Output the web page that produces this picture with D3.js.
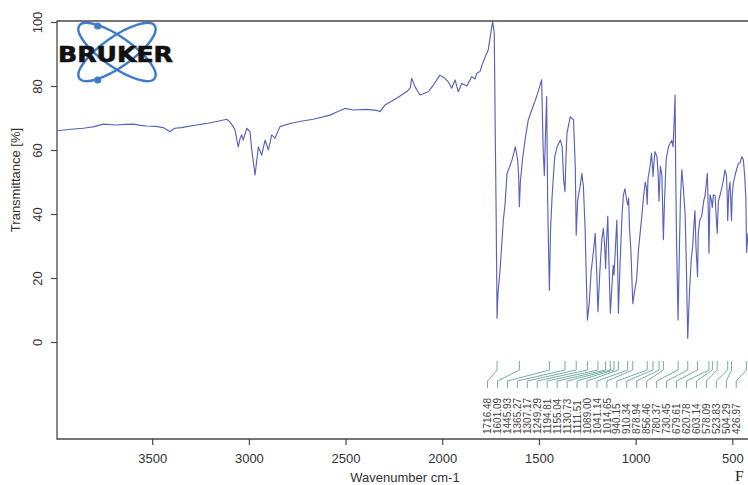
<!DOCTYPE html>
<html>
<head>
<meta charset="utf-8">
<script src="https://cdn.jsdelivr.net/npm/d3@7"></script>
<style>
  html, body { margin: 0; padding: 0; background: #ffffff; }
  svg { display: block; }
</style>
</head>
<body>
<svg id="chart" width="748" height="485"></svg>
<script>
// IR spectrum: wavenumber (cm-1) and transmittance (%)
const wavenumber = [
  3992, 3920, 3856, 3800, 3753, 3684, 3640, 3598, 3560, 3528, 3480, 3443, 3420, 3408, 3395, 3382,
  3350, 3321, 3270, 3218, 3160, 3115, 3098, 3081, 3072, 3055, 3046, 3037, 3029, 3011, 2994, 2985,
  2968, 2951, 2934, 2916, 2899, 2882, 2865, 2839, 2787, 2730, 2667, 2580, 2540, 2503, 2460, 2391,
  2340, 2322, 2296, 2236, 2184, 2165, 2158, 2141, 2115, 2072, 2046, 2012, 1986, 1969, 1951, 1934,
  1917, 1899, 1873, 1848, 1830, 1822, 1805, 1788, 1762, 1744, 1739, 1731, 1726, 1722, 1719, 1716.48,
  1712, 1701, 1684, 1675, 1665, 1650, 1639, 1622, 1610, 1605, 1601.09, 1596, 1585, 1572, 1555, 1537,
  1512, 1486, 1478, 1472, 1466, 1460, 1455, 1450, 1445.93, 1440, 1432, 1425, 1418, 1406, 1389, 1380,
  1372, 1365.27, 1360, 1355, 1338, 1321, 1312, 1307.17, 1300, 1295, 1286, 1278, 1270, 1261, 1255, 1249.29,
  1240, 1230, 1215, 1209, 1200, 1194.81, 1185, 1175, 1167, 1160, 1155.04, 1150, 1144, 1138, 1130.73, 1122,
  1116, 1111.51, 1104, 1097, 1093, 1089, 1080, 1070, 1063, 1055, 1048, 1041.14, 1036, 1032, 1024, 1014.65,
  1005, 995, 985, 970, 958, 950, 944, 940.15, 936, 925, 918, 913, 910.34, 905, 900, 890,
  884, 878.94, 872, 864, 856.46, 850, 842, 830, 822, 813, 806, 800, 796, 793, 788, 780.37,
  775, 768, 761, 753, 744, 738, 730.45, 722, 712, 705, 698, 693, 688, 679.61, 676, 668,
  658, 648, 641, 629, 624, 620.78, 615, 607, 603.14, 598, 589, 584, 578.09, 572, 564, 555,
  546, 538, 530, 526, 523.83, 518, 512, 508, 504.29, 500, 495, 482, 469, 460, 451, 443,
  436, 430, 426, 419
];
const transmittance = [
  66.0, 66.5, 66.8, 67.3, 68.1, 67.8, 68.0, 68.1, 67.7, 67.5, 67.4, 67.0, 66.2, 65.7, 66.4, 66.8,
  67.0, 67.3, 67.8, 68.3, 69.0, 69.6, 68.8, 67.3, 66.3, 61.0, 63.5, 64.7, 63.1, 66.8, 65.7, 60.0,
  52.2, 61.0, 58.4, 63.1, 60.0, 64.7, 63.7, 67.3, 68.3, 69.0, 69.6, 70.9, 72.0, 73.0, 72.5, 72.7,
  72.4, 72.0, 74.1, 76.2, 78.2, 79.5, 82.4, 79.8, 77.2, 78.2, 80.3, 83.4, 82.4, 81.3, 79.3, 81.9,
  78.2, 80.8, 80.0, 82.9, 82.2, 84.0, 84.5, 87.6, 91.3, 98.5, 100.1, 96.5, 66.3, 44.4, 25.0, 7.4,
  15.0, 22.5, 38.1, 43.3, 52.7, 55.0, 56.9, 61.0, 57.0, 52.0, 42.3, 50.0, 57.0, 63.1, 69.4, 72.5,
  76.7, 81.9, 60.0, 52.0, 65.0, 76.7, 45.0, 28.0, 16.2, 35.0, 45.4, 52.0, 58.0, 61.0, 63.1, 61.0,
  50.6, 47.0, 58.0, 65.2, 70.4, 69.4, 54.8, 33.4, 44.0, 46.0, 49.0, 52.7, 48.5, 35.0, 20.0, 6.9,
  12.0, 22.0, 30.0, 34.0, 20.0, 9.5, 22.0, 32.0, 35.5, 30.0, 23.0, 32.0, 39.3, 25.0, 9.0, 18.0,
  24.0, 21.0, 30.0, 38.1, 25.0, 9.0, 25.0, 40.0, 46.0, 47.9, 45.0, 42.8, 45.0, 36.0, 28.0, 12.0,
  16.0, 19.4, 29.0, 38.0, 46.0, 50.0, 48.0, 43.0, 51.0, 55.0, 59.0, 55.0, 51.7, 56.0, 59.5, 58.0,
  53.0, 44.0, 55.0, 52.0, 32.0, 45.0, 57.0, 61.0, 62.0, 63.0, 61.0, 70.0, 77.2, 55.0, 30.0, 6.9,
  25.0, 45.0, 53.8, 48.0, 40.0, 25.0, 1.1, 15.0, 26.0, 29.8, 37.0, 41.0, 30.0, 20.4, 34.0, 38.0,
  39.5, 44.0, 45.7, 52.7, 40.0, 27.7, 46.0, 44.0, 42.0, 46.0, 45.7, 40.0, 34.0, 44.0, 45.7, 48.0,
  50.6, 53.8, 52.0, 45.0, 38.0, 47.0, 50.0, 44.0, 38.0, 46.0, 49.6, 53.0, 55.8, 56.0, 57.9, 57.0,
  52.0, 45.0, 28.0, 34.0
];
// picked peak positions, printed under the spectrum
const peakLabels = [
  "1716.48", "1601.09", "1445.93", "1365.27", "1307.17", "1249.29", "1194.81", "1155.04",
  "1130.73", "1111.51", "1089.00", "1041.14", "1014.65", "940.15", "910.34", "878.94",
  "856.46", "780.37", "730.45", "679.61", "620.78", "603.14", "578.09", "523.83", "504.29", "426.97"
];
const xTicks = [3500, 3000, 2500, 2000, 1500, 1000, 500];
const yTicks = [0, 20, 40, 60, 80, 100];

const plot = { left: 57, top: 21, bottom: 439, right: 760 };
const svg = d3.select("#chart");

const x = d3.scaleLinear().domain([4000, 500]).range([55.5, 732.3]);
const y = d3.scaleLinear().domain([0, 100]).range([342, 22]);

const axisColor = "#4a4a4a";
const fontFamily = "'Liberation Sans', Arial, Helvetica, sans-serif";

// Bruker logo (top-left, inside the frame)
const logo = svg.append("g").attr("transform", "translate(117,52)");
[35, -35].forEach(a => {
  logo.append("ellipse")
    .attr("rx", 46).attr("ry", 15)
    .attr("transform", `rotate(${a})`)
    .attr("fill", "none").attr("stroke", "#3f7dc8").attr("stroke-width", 2.4);
});
logo.append("circle").attr("cx", -19.3).attr("cy", -26).attr("r", 3.6).attr("fill", "#3f7dc8");
logo.append("circle").attr("cx", -19.3).attr("cy", 28).attr("r", 3.6).attr("fill", "#3f7dc8");
logo.append("text")
  .attr("x", -59).attr("y", 10)
  .attr("textLength", 115).attr("lengthAdjust", "spacingAndGlyphs")
  .attr("font-family", "'DejaVu Sans', 'Liberation Sans', sans-serif")
  .attr("font-weight", "bold").attr("font-size", 21)
  .attr("fill", "#111").attr("stroke", "#111").attr("stroke-width", 0.6)
  .text("BRUKER");

// spectrum, clipped to the plot frame
svg.append("clipPath").attr("id", "plotClip")
  .append("rect").attr("x", plot.left).attr("y", plot.top - 1)
  .attr("width", plot.right - plot.left).attr("height", plot.bottom - plot.top + 1);

const line = d3.line().x(d => x(d[0])).y(d => y(d[1]));
svg.append("path")
  .datum(d3.zip(wavenumber, transmittance))
  .attr("clip-path", "url(#plotClip)")
  .attr("d", line)
  .attr("fill", "none")
  .attr("stroke", "#5a63b8")
  .attr("stroke-width", 1.15)
  .attr("stroke-linejoin", "round");

// peak annotation leaders and labels
const labelX0 = 487.5, labelStep = 9.95;
const leaders = svg.append("g");
peakLabels.forEach((lab, i) => {
  const px = x(+lab);
  const lx = labelX0 + i * labelStep;
  leaders.append("path")
    .attr("d", `M${px},361 V370 L${lx},381 V388`)
    .attr("fill", "none").attr("stroke", "#78ad9f").attr("stroke-width", 1);
  leaders.append("text")
    .attr("transform", `translate(${lx + 3.6},434) rotate(-90)`)
    .attr("font-family", fontFamily).attr("font-size", 10)
    .attr("fill", "#444")
    .text(lab);
});

// frame
svg.append("path")
  .attr("d", `M${plot.right},${plot.top} H${plot.left} V${plot.bottom} H${plot.right}`)
  .attr("fill", "none").attr("stroke", axisColor).attr("stroke-width", 1.3);

// y axis
const yAxis = svg.append("g")
  .attr("transform", `translate(${plot.left},0)`)
  .call(d3.axisLeft(y).tickValues(yTicks).tickSize(6).tickFormat(d3.format("d")));
yAxis.select(".domain").remove();
yAxis.selectAll(".tick line").attr("stroke", axisColor).attr("stroke-width", 1.2);
yAxis.selectAll(".tick text")
  .attr("x", null).attr("dy", null)
  .attr("transform", "translate(-15.5,0) rotate(-90)")
  .attr("text-anchor", "middle")
  .attr("font-family", fontFamily).attr("font-size", 13)
  .attr("fill", "#333");

// x axis
const xAxis = svg.append("g")
  .attr("transform", `translate(0,${plot.bottom})`)
  .call(d3.axisBottom(x).tickValues(xTicks).tickSize(6).tickFormat(d3.format("d")));
xAxis.select(".domain").remove();
xAxis.selectAll(".tick line").attr("stroke", axisColor).attr("stroke-width", 1.2);
xAxis.selectAll(".tick text")
  .attr("y", 24).attr("dy", null)
  .attr("font-family", fontFamily).attr("font-size", 13)
  .attr("fill", "#333");

// axis titles
svg.append("text")
  .attr("transform", "translate(20,180) rotate(-90)")
  .attr("text-anchor", "middle")
  .attr("font-family", fontFamily).attr("font-size", 13).attr("fill", "#333")
  .text("Transmittance [%]");
svg.append("text")
  .attr("x", 405).attr("y", 482)
  .attr("text-anchor", "middle")
  .attr("font-family", fontFamily).attr("font-size", 13).attr("fill", "#333")
  .text("Wavenumber cm-1");

// start of the figure caption at the bottom-right
svg.append("text")
  .attr("x", 735).attr("y", 481)
  .attr("font-family", "'Liberation Serif', 'Times New Roman', serif")
  .attr("font-size", 15.5).attr("fill", "#222")
  .text("F");
</script>
</body>
</html>
